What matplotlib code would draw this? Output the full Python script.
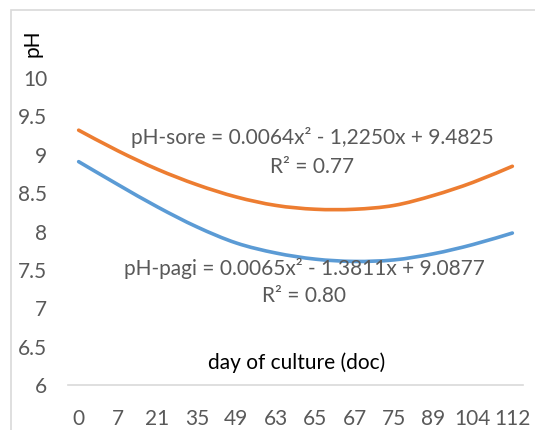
import matplotlib
matplotlib.use("Agg")
import matplotlib.pyplot as plt
from matplotlib.patches import Rectangle, PathPatch
from matplotlib.path import Path

plt.rcParams['font.family'] = ['Lato', 'DejaVu Sans']

# dias de cultivo (eixo categórico)
days = ['0', '7', '21', '35', '49', '63', '65', '67', '75', '89', '104', '112']
# valores
ph_sore = [9.32, 9.05, 8.81, 8.61, 8.45, 8.34, 8.29, 8.29, 8.34, 8.47, 8.64, 8.85]
ph_pagi = [8.91, 8.61, 8.32, 8.06, 7.85, 7.72, 7.64, 7.61, 7.63, 7.71, 7.83, 7.98]
yticks = [6, 6.5, 7, 7.5, 8, 8.5, 9, 9.5, 10]


def smooth_path(ys):
    # linha suavizada tipo Excel (Catmull-Rom -> Bezier), passando pelos pontos
    pts = list(enumerate(ys))
    verts = [pts[0]]
    codes = [Path.MOVETO]
    for i in range(len(pts) - 1):
        p0 = pts[max(i - 1, 0)]
        p1, p2 = pts[i], pts[i + 1]
        p3 = pts[min(i + 2, len(pts) - 1)]
        c1 = (p1[0] + (p2[0] - p0[0]) / 6, p1[1] + (p2[1] - p0[1]) / 6)
        c2 = (p2[0] - (p3[0] - p1[0]) / 6, p2[1] - (p3[1] - p1[1]) / 6)
        verts += [c1, c2, p2]
        codes += [Path.CURVE4] * 3
    return Path(verts, codes)


W, H = 535, 430
fig = plt.figure(figsize=(W/100, H/100), dpi=100)
ax = fig.add_axes([68/W, (H-385)/H, (523-68)/W, (385-78)/H])

for ys, col in [(ph_sore, '#ED7D31'), (ph_pagi, '#5B9BD5')]:
    ax.add_patch(PathPatch(smooth_path(ys), fill=False, edgecolor=col, lw=2.6,
                           capstyle='round', joinstyle='round'))

ax.set_xlim(-0.27, len(days) - 1 + 0.27)
ax.set_ylim(6, 10)
ax.set_xticks(range(len(days)))
ax.set_xticklabels(days)
ax.set_yticks(yticks)
ax.set_yticklabels(['%g' % v for v in yticks])
ax.tick_params(axis='y', length=0, pad=15, labelsize=15, labelcolor='#595959')
ax.tick_params(axis='x', length=0, pad=17, labelsize=15, labelcolor='#595959')

for s in ['top', 'right', 'left']:
    ax.spines[s].set_visible(False)
ax.spines['bottom'].set_color('#D9D9D9')
ax.spines['bottom'].set_linewidth(1.2)

# equações das linhas de tendência
fs = 15
ax.text(5.93, 9.23, 'pH-sore = 0.0064x² - 1,2250x + 9.4825', ha='center', va='center',
        fontsize=fs, color='#595959')
ax.text(5.93, 8.84, 'R² = 0.77', ha='center', va='center', fontsize=fs, color='#595959')
ax.text(5.72, 7.52, 'pH-pagi = 0.0065x² - 1.3811x + 9.0877', ha='center', va='center',
        fontsize=fs, color='#595959')
ax.text(5.72, 7.16, 'R² = 0.80', ha='center', va='center', fontsize=fs, color='#595959')

ax.text(5.52, 6.29, 'day of culture (doc)', ha='center', va='center', fontsize=fs, color='black')
fig.text(33/W, 1 - 43/H, 'pH', rotation=90, ha='center', va='center', fontsize=fs, color='black')

fig.patches.append(Rectangle((11/W, -0.1), 1.2, 1 - 10/H + 0.1, transform=fig.transFigure,
                             fill=False, edgecolor='#D9D9D9', lw=1.2))

fig.savefig('out.png', dpi=100)
